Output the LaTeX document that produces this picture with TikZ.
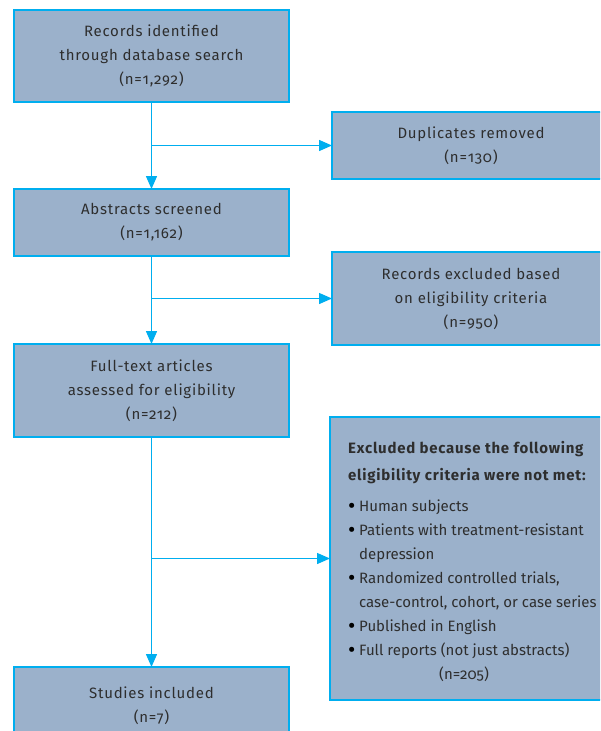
\documentclass[tikz,border=0pt]{standalone}
\usepackage{fontspec}
\setmainfont[Numbers=OldStyle, LetterSpace=5]{Fira Sans}
\newfontfamily\excfont[Numbers=OldStyle]{Fira Sans}
\usetikzlibrary{arrows.meta}
\definecolor{boxfill}{HTML}{9BB1CB}
\definecolor{boxline}{HTML}{00AEEF}
\definecolor{txt}{HTML}{2E2E2E}
\newcommand{\blt}{\makebox[11pt][l]{\textcolor{black}{\raisebox{-2pt}{\scalebox{1.5}{\textbullet}}}}}
\tikzset{
  flowbox/.style={draw=boxline, line width=2.6pt, fill=boxfill, inner sep=0pt, outer sep=0pt,
    align=center, text=txt, font=\fontsize{15}{24}\selectfont},
  flowarrow/.style={draw=boxline, line width=1.4pt, -{Triangle[length=13pt,width=11pt]}},
}
\begin{document}
\begin{tikzpicture}[x=1pt,y=1pt]
\useasboundingbox (0,0) rectangle (600,-731);
\clip (0,0) rectangle (600,-731);
\node[flowbox, minimum width=275pt, minimum height=92pt] (b1) at (151.5,-56)
  {Records identified\\through database search\\(n=1,292)};
\node[flowbox, minimum width=278pt, minimum height=67pt] (dup) at (471,-145.5)
  {Duplicates removed\\(n=130)};
\node[flowbox, minimum width=275pt, minimum height=67pt] (b2) at (151.5,-222.5)
  {Abstracts screened\\(n=1,162)};
\node[flowbox, minimum width=278pt, minimum height=93pt] (rec) at (471,-298.5)
  {Records excluded based\\on eligibility criteria\\(n=950)};
\node[flowbox, minimum width=275pt, minimum height=93pt] (b3) at (151.5,-390.5)
  {Full-text articles\\assessed for eligibility\\(n=212)};
\node[flowbox, minimum width=280pt, minimum height=283pt, anchor=north west] (exc) at (330,-417)
  {};
\node[anchor=north west, inner sep=0pt, align=left, text=txt, font=\fontsize{15}{24}\selectfont] (exctext) at (348,-441)
  {\textbf{Excluded because the following}\\[3pt]
   \textbf{eligibility criteria were not met:}\\[7pt]
   {\excfont\blt Human subjects}\\
   {\excfont\blt Patients with treatment-resistant}\\
   {\excfont\hspace*{11pt}depression}\\
   {\excfont\blt Randomized controlled trials,}\\
   {\excfont\hspace*{11pt}case-control, cohort, or case series}\\
   {\excfont\blt Published in English}\\
   {\excfont\blt Full reports (not just abstracts)}\\
   {\excfont\hspace*{91pt}(n=205)}};
\node[flowbox, minimum width=275pt, minimum height=78pt] (b4) at (151.5,-706)
  {Studies included\\(n=7)};
\draw[flowarrow] (b1.south) -- (b2.north);
\draw[flowarrow] (b2.south) -- (b3.north);
\draw[flowarrow] (b3.south) -- (b4.north);
\draw[flowarrow] (b1.south |- dup.west) -- (dup.west);
\draw[flowarrow] (b2.south |- rec.west) -- (rec.west);
\draw[flowarrow] (b3.south |- exc.west) -- (exc.west);
\end{tikzpicture}
\end{document}
